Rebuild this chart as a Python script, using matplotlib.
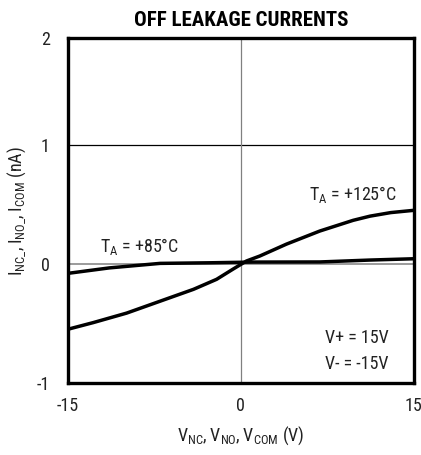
from matplotlib import pyplot as plt
from matplotlib import font_manager

# values (V, nA)
v_125 = [-15, -12.8, -9.9, -7.0, -4.1, -2.1, -0.67, 0.49, 1.65, 3.96, 6.85, 9.74, 11.2, 13.0, 15]
i_125 = [-0.546, -0.49, -0.41, -0.31, -0.21, -0.126, -0.04, 0.028, 0.07, 0.17, 0.28, 0.37, 0.405, 0.435, 0.454]

v_85 = [-15, -11.4, -7.0, -2.7, 1.07, 6.85, 11.2, 15]
i_85 = [-0.076, -0.03, 0.008, 0.013, 0.019, 0.02, 0.036, 0.047]

x_ticks = [-15, 0, 15]
x_tick_labels = ['-15', '0', '15']
y_ticks = [-1, 0, 1, 2]
y_tick_labels = ['-1', '0', '1', '2']
y_top = 1.9  # top frame of the original sits a bit under 2

names = set(f.name for f in font_manager.fontManager.ttflist)
wanted = ['Roboto Condensed', 'Archivo Narrow', 'PT Sans Narrow', 'Liberation Sans Narrow', 'Liberation Sans']
family = next((f for f in wanted if f in names), 'DejaVu Sans')
plt.rcParams['font.family'] = [family, 'DejaVu Sans']

ink = '#222222'
fig = plt.figure(figsize=(4.21, 4.55), dpi=100)
ax = fig.add_axes([0.161, 0.1576, 0.822, 0.7582])

ax.set_xlim(-15, 15)
ax.set_ylim(-1, y_top)
ax.axhline(1, color='black', lw=0.9, zorder=1)
ax.axhline(0, color='#808080', lw=1.1, zorder=1)
ax.axvline(0, color='#808080', lw=0.9, zorder=1)

ax.plot(v_125, i_125, color='black', lw=2.5, zorder=3, solid_capstyle='butt')
ax.plot(v_85, i_85, color='black', lw=2.5, zorder=3, solid_capstyle='butt')

for s in ax.spines.values():
	s.set_linewidth(2.4)

ax.set_xticks(x_ticks)
ax.set_xticklabels(x_tick_labels)
ax.set_yticks([min(t, y_top) for t in y_ticks])
ax.set_yticklabels(y_tick_labels)
ax.tick_params(length=0, labelsize=13, labelcolor=ink)
ax.tick_params(axis='x', pad=10)
ax.tick_params(axis='y', pad=13)

ax.set_title('OFF LEAKAGE CURRENTS', fontsize=15, fontweight='bold', pad=9)
ax.set_xlabel(r'$\mathregular{V_{NC}, V_{NO}, V_{COM}}$ (V)', fontsize=13, color=ink, labelpad=7)
ax.set_ylabel(r'$\mathregular{I_{NC\_}, I_{NO\_}, I_{COM}}$ (nA)', fontsize=13, color=ink, labelpad=6)

ax.text(13.5, 0.585, r'$\mathregular{T_A}$ = +125°C', fontsize=13, ha='right', va='center', color=ink)
ax.text(-12.2, 0.146, r'$\mathregular{T_A}$ = +85°C', fontsize=13, ha='left', va='center', color=ink)
ax.text(7.3, -0.62, 'V+ = 15V', fontsize=13, ha='left', va='center', color=ink)
ax.text(7.3, -0.84, 'V- = -15V', fontsize=13, ha='left', va='center', color=ink)

plt.savefig('out.png', dpi=100)
